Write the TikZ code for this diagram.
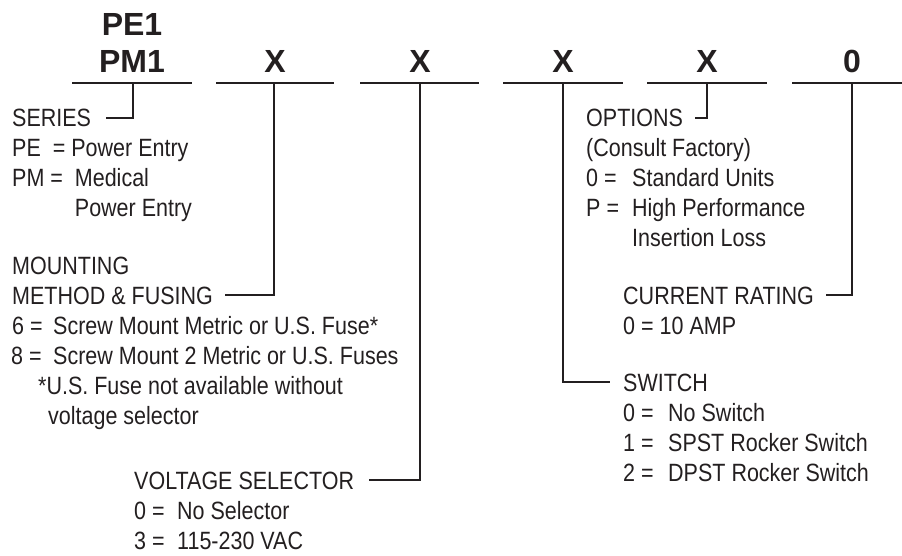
\documentclass[tikz,border=0pt]{standalone}
\usepackage{fontspec}
\setmainfont{Liberation Sans}[FakeStretch=0.86]
\newfontfamily\labfont{Liberation Sans}
\definecolor{ink}{HTML}{231F20}
\newcommand\kv[3]{\makebox[#1][l]{#2 =}#3}
\newcommand\lbl{\fontsize{25}{30}\selectfont}
\begin{document}
\begin{tikzpicture}[x=1pt,y=-1pt,
  txt/.style={anchor=base west, inner sep=0pt, font=\lbl, text=ink},
  code/.style={anchor=base, inner sep=0pt, font=\labfont\bfseries\fontsize{32}{36}\selectfont, text=ink},
  uline/.style={draw=ink, line width=2.6pt},
  conn/.style={draw=ink, line width=1.3pt}]
\useasboundingbox (0,0) rectangle (902,556);
% code letters
\node[code] (pe1) at (132,36) {PE1};
\node[code] (pm1) at (132,73) {PM1};
\node[code] (c2) at (275,73) {X};
\node[code] (c3) at (420,73) {X};
\node[code] (c4) at (563,73) {X};
\node[code] (c5) at (707,73) {X};
\node[code] (c6) at (852,73) {0};
% underlines
\coordinate (u1a) at (72,83);  \coordinate (u1b) at (192,83);
\coordinate (u2a) at (216,83); \coordinate (u2b) at (334,83);
\coordinate (u3a) at (360,83); \coordinate (u3b) at (479,83);
\coordinate (u4a) at (503,83); \coordinate (u4b) at (623,83);
\coordinate (u5a) at (647,83); \coordinate (u5b) at (767,83);
\coordinate (u6a) at (792,83); \coordinate (u6b) at (912,83);
\foreach \i in {1,...,6} {\draw[uline] (u\i a) -- (u\i b);}
% left column
\node[txt] (series) at (12,127) {SERIES};
\node[txt] (pe) at (12,157) {PE\ \ = Power Entry};
\node[txt] (pm) at (12,187) {PM = \ Medical};
\node[txt] (pm2) at (12,217) {\phantom{PM = \ }Power Entry};
\node[txt] (mount) at (12,274) {MOUNTING};
\node[txt] (method) at (12,304) {METHOD \& FUSING};
\node[txt] (m6) at (12,334) {\kv{41pt}{6}{Screw Mount Metric or U.S. Fuse*}};
\node[txt] (m8) at (11,364) {\kv{42pt}{8}{Screw Mount 2 Metric or U.S. Fuses}};
\node[txt] (note1) at (38,394) {*U.S. Fuse not available without};
\node[txt] (note2) at (48,424) {voltage selector};
\node[txt] (volt) at (134,489) {VOLTAGE SELECTOR};
\node[txt] (v0) at (134,519) {\kv{43pt}{0}{No Selector}};
\node[txt] (v3) at (134,549) {\kv{43pt}{3}{115-230 VAC}};
% right column
\node[txt] (opt) at (586,127) {OPTIONS};
\node[txt] (consult) at (586,157) {(Consult Factory)};
\node[txt] (o0) at (586,187) {\kv{46pt}{0}{Standard Units}};
\node[txt] (op) at (586,217) {\kv{46pt}{P}{High Performance}};
\node[txt] (op2) at (632,247) {Insertion Loss};
\node[txt] (cur) at (623,304) {CURRENT RATING};
\node[txt] (c0) at (623,334) {0 = 10 AMP};
\node[txt] (sw) at (623,391) {SWITCH};
\node[txt] (s0) at (623,421) {\kv{45pt}{0}{No Switch}};
\node[txt] (s1) at (623,451) {\kv{45pt}{1}{SPST Rocker Switch}};
\node[txt] (s2) at (623,481) {\kv{45pt}{2}{DPST Rocker Switch}};
% connectors
\draw[conn] (133,83) |- ([xshift=15pt,yshift=9pt]series.base east);
\draw[conn] (274,83) |- ([xshift=12pt,yshift=9pt]method.base east);
\draw[conn] (420,83) |- ([xshift=15pt,yshift=9pt]volt.base east);
\draw[conn] (563,83) |- ([xshift=-13pt,yshift=9pt]sw.base west);
\draw[conn] (707,83) |- ([xshift=12pt,yshift=9pt]opt.base east);
\draw[conn] (852,83) |- ([xshift=12pt,yshift=9pt]cur.base east);
\end{tikzpicture}
\end{document}
